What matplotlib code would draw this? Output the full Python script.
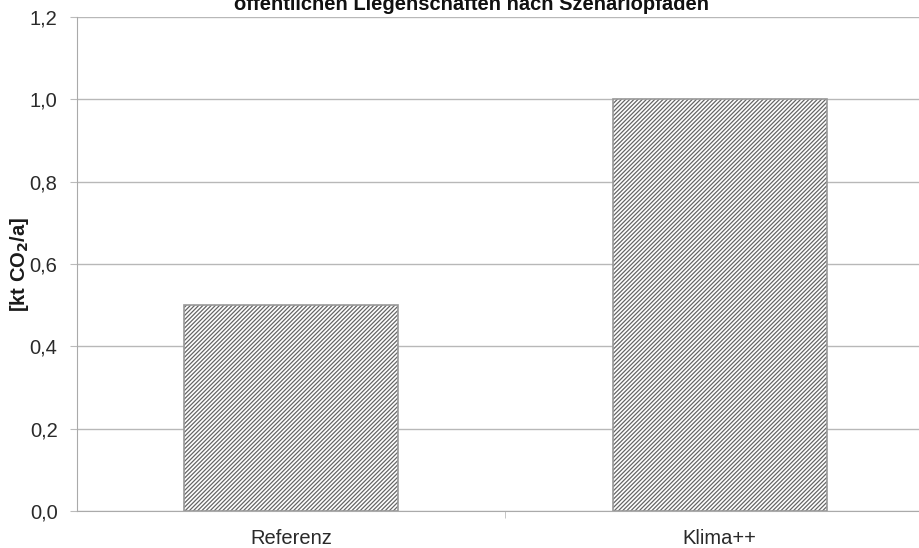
import matplotlib.pyplot as plt
from matplotlib.ticker import FixedLocator

categories = ['Referenz', 'Klima++']
values = [0.50, 1.00]
y_ticks = [0.0, 0.2, 0.4, 0.6, 0.8, 1.0, 1.2]
y_tick_labels = ['0,0', '0,2', '0,4', '0,6', '0,8', '1,0', '1,2']
title = 'öffentlichen Liegenschaften nach Szenariopfaden'

plt.rcParams['font.family'] = ['Liberation Sans', 'DejaVu Sans']
plt.rcParams['hatch.linewidth'] = 0.9

fig = plt.figure(figsize=(9.2, 5.48), dpi=100)
# axes runs past the right edge, like the cropped original
ax = fig.add_axes([77 / 920, 1 - 511 / 548, 857 / 920, 494 / 548])

x = list(range(len(categories)))
ax.bar(x, values, width=0.5, color='white', edgecolor='#656565', hatch='/' * 8, linewidth=0, zorder=2)
ax.bar(x, values, width=0.5, fill=False, edgecolor='#999999', linewidth=1.2, zorder=3)

ax.set_xlim(-0.5, 1.5)
ax.set_ylim(0, 1.2)
ax.set_yticks(y_ticks)
ax.set_yticklabels(y_tick_labels, fontsize=14.5, color='#2a2a2a')
ax.set_xticks(x)
ax.set_xticklabels(categories, fontsize=14.5, color='#2a2a2a')
ax.xaxis.set_minor_locator(FixedLocator([0.5]))
ax.tick_params(axis='x', which='major', length=0, pad=13)
ax.tick_params(axis='x', which='minor', length=5, color='#bbbbbb')
ax.tick_params(axis='y', length=5, color='#bbbbbb', pad=9)

ax.grid(axis='y', color='#b8b8b8', linewidth=1, zorder=0)
ax.set_axisbelow(True)
for s in ['top', 'right']:
    ax.spines[s].set_visible(False)
ax.spines['left'].set_color('#aaaaaa')
ax.spines['bottom'].set_color('#aaaaaa')

fig.text(20 / 920, 1 - 264 / 548, r'[kt CO$_\mathbf{2}$/a]', rotation=90, ha='center', va='center',
         fontsize=14.5, fontweight='bold', color='#1a1a1a')

# title is cut off at the top in the original
fig.text(472 / 920, 1 - 10 / 548, title, ha='center', va='baseline',
         fontsize=14.5, fontweight='bold', color='#111111')

fig.savefig('out.png', dpi=100)
